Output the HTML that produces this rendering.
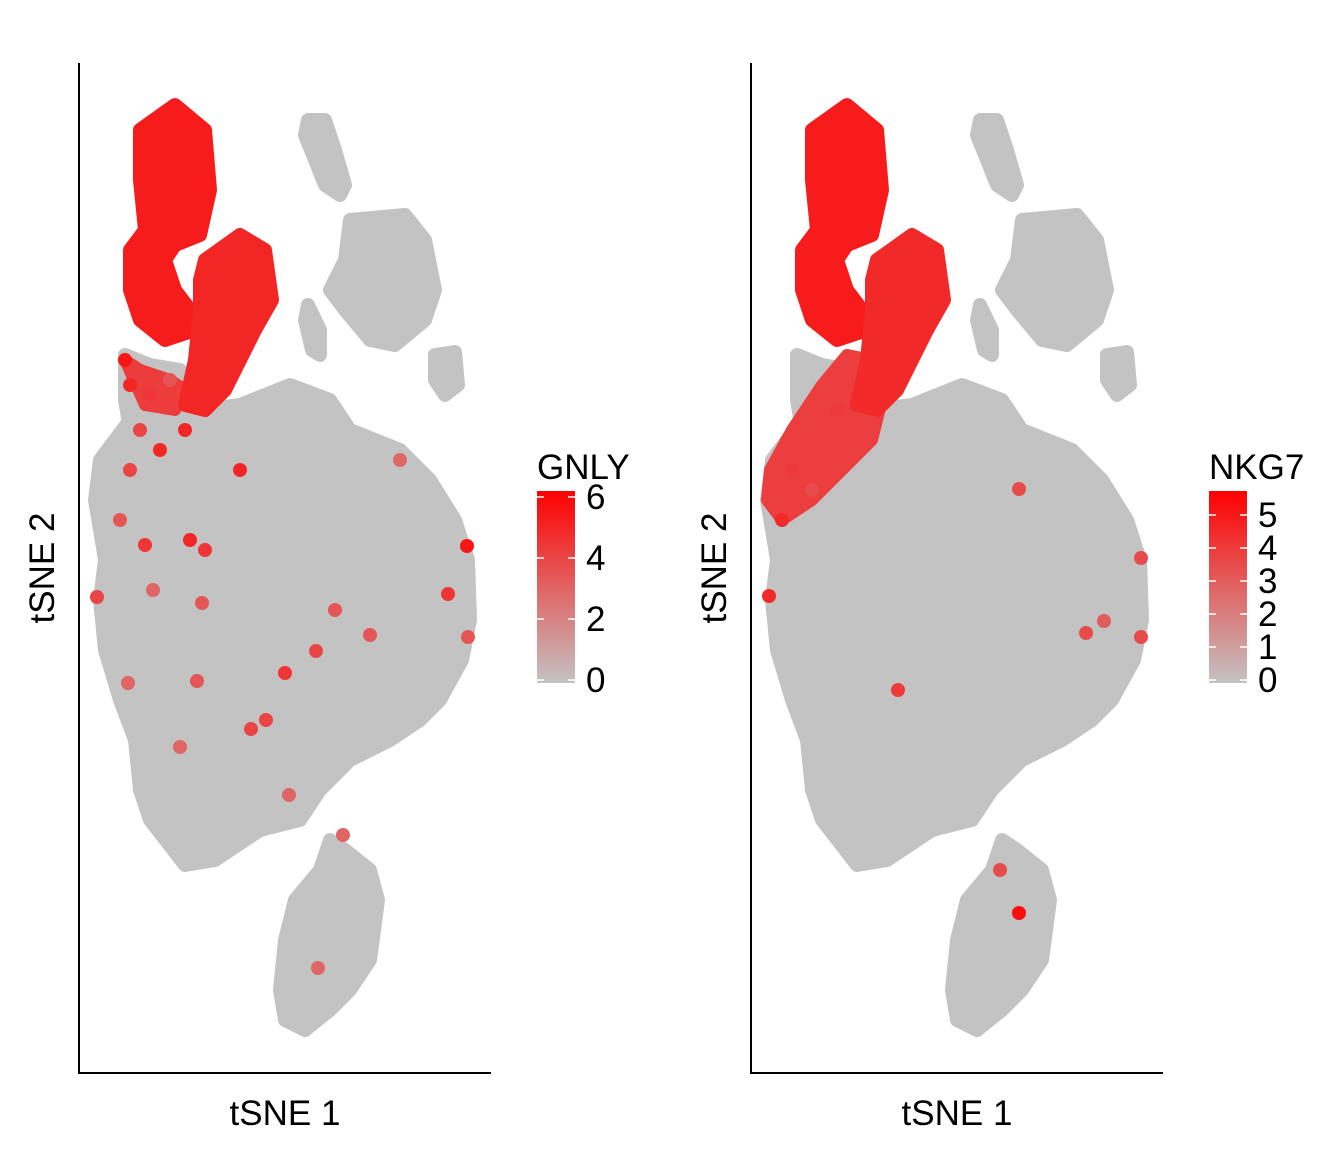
<!DOCTYPE html>
<html><head><meta charset="utf-8"><style>
html,body{margin:0;padding:0;background:#fff;}
svg{display:block;font-family:"Liberation Sans",sans-serif;}
</style></head><body>
<svg id="chart" width="1344" height="1152" viewBox="0 0 1344 1152"></svg>
<script>
// shared tSNE layout (data units: tSNE1 0..412, tSNE2 0..1010 from bottom)
const clusterNames = ["main","nk-top","nk-mid","nk-ext","strand","right-upper","small-a","small-b","bottom"];
const clusterMain = [[51,653],[121,663],[161,668],[211,688],[251,673],[271,643],[321,623],[351,593],[376,553],[389,513],[391,453],[383,413],[361,373],[341,353],[311,333],[271,313],[241,283],[221,253],[181,243],[136,213],[106,208],[71,253],[61,283],[56,333],[41,373],[26,423],[21,473],[26,513],[16,573],[21,613]];
const clusterTop = [[61,943],[96,968],[126,943],[131,883],[121,838],[96,828],[86,813],[96,783],[111,763],[116,743],[86,733],[61,753],[51,783],[51,823],[66,843],[61,893]];
const clusterMid = [[126,813],[161,838],[186,823],[193,773],[176,743],[161,713],[146,683],[126,663],[106,668],[116,713],[121,763],[121,793]];
const clusterExt = [[46,718],[71,708],[101,703],[126,663],[81,633],[51,643],[46,673]];
const clusterStrand = [[229,953],[246,953],[256,923],[266,888],[261,878],[246,888],[236,913],[226,938]];
const clusterRight = [[271,853],[326,858],[346,833],[356,783],[346,753],[316,728],[291,733],[266,763],[251,783],[266,813]];
const clusterSmallA = [[229,768],[241,743],[241,718],[233,723],[226,753]];
const clusterSmallB = [[356,718],[376,721],[379,688],[366,678],[356,693]];
const clusterBottom = [[251,233],[266,223],[291,203],[299,173],[291,113],[271,83],[251,63],[226,43],[206,53],[201,83],[206,133],[216,173],[241,203]];
const grayClusters = [clusterMain,clusterStrand,clusterRight,clusterSmallA,clusterSmallB,clusterBottom,clusterExt];

// GNLY
const gnlyRegions = [[clusterTop,5.3],[clusterMid,5.0]];
const gnlyRegionExt = [[46,713],[61,703],[91,693],[106,683],[96,663],[66,668]];
const gnlyExtValue = 4.3;
const gnlyCellsX = [161,18,74,123,49,118,187,172,206,237,256,369,388,389,101,210,264,239,66,111,51,81,41,126,321,291,46,51,71,91,106,61];
const gnlyCellsY = [603,476,483,470,390,392,353,344,400,422,463,479,527,436,326,278,238,105,528,533,603,623,553,523,613,438,713,688,678,693,643,643];
const gnlyCellsV = [5,4,3,3.5,3,3.5,4,4,4.5,4,3.5,4.5,5.5,3.5,3,3,3,3,4.5,5,4,5,3.5,4.5,3,3.5,5.5,5,4.5,3.5,5,4];

// NKG7
const nkgRegions = [[clusterTop,4.9],[clusterMid,4.5]];
const nkgRegionExt = [[19,603],[41,643],[71,688],[96,718],[121,713],[131,673],[121,633],[91,603],[61,573],[31,553],[16,573]];
const nkgExtValue = 3.9;
const nkgCellsX = [18,147,268,335,390,390,353,268,249,86,41,61,31];
const nkgCellsY = [477,383,584,440,515,436,452,160,203,663,603,583,553];
const nkgCellsV = [4.5,4,3.5,3.5,3.5,3.5,3,5.3,3.5,4,4,3.5,4.5];

const gnlyTicks = [0,2,4,6];
const nkgTicks = [0,1,2,3,4,5];

const NS="http://www.w3.org/2000/svg";
const svg=document.getElementById('chart');
function mk(tag,attrs,parent){const e=document.createElementNS(NS,tag);for(const k in attrs)e.setAttribute(k,attrs[k]);(parent||svg).appendChild(e);return e;}
function lerp(a,b,t){return Math.round(a+(b-a)*t);}
function colorFor(v,max){const t=Math.max(0,Math.min(1,v/max));return `rgb(${lerp(195,255,t)},${lerp(195,0,t)},${lerp(195,0,t)})`;}

function panel(off,name,regions,ext,extV,cx,cy,cv,max,ticks,ppu,legendTop,title){
  const g=mk('g',{});
  
  
  const sx=v=>79+off+v; const sy=v=>1073-v;
  const pts=p=>p.map(q=>sx(q[0])+','+sy(q[1])).join(' ');
  grayClusters.forEach(c=>{
    const el=mk('polygon',{points:pts(c),fill:'#c3c3c3',stroke:'#c3c3c3','stroke-width':14,'stroke-linejoin':'round'},g);
    
    
  });
  const ee=mk('polygon',{points:pts(ext),fill:colorFor(extV,max),stroke:colorFor(extV,max),'stroke-width':12,'stroke-linejoin':'round'},g);
  
  
  regions.forEach(r=>{
    const el=mk('polygon',{points:pts(r[0]),fill:colorFor(r[1],max),stroke:colorFor(r[1],max),'stroke-width':14,'stroke-linejoin':'round'},g);
    
    
  });
  cx.forEach((x,i)=>{
    const el=mk('circle',{cx:sx(x),cy:sy(cy[i]),r:7,fill:colorFor(cv[i],max)},g);
    
    
  });
  const ax=mk('path',{d:`M${79+off} 63V1073H${491+off}`,stroke:'#000','stroke-width':2,fill:'none'},g);
  
  
  const xt=mk('text',{x:285+off,y:1125,'font-size':35,'text-anchor':'middle'},g);xt.textContent='tSNE 1';
  
  const yt=mk('text',{x:0,y:0,'font-size':35,'text-anchor':'middle',transform:`translate(${54+off},568) rotate(-90)`},g);yt.textContent='tSNE 2';
  
  const lx=537+off, bottom=680;
  const gid='grad'+name;
  const defs=mk('defs',{},g);const lg=mk('linearGradient',{id:gid,x1:0,y1:1,x2:0,y2:0},defs);
  [0,0.25,0.5,0.75,1].forEach(t=>mk('stop',{offset:t,'stop-color':colorFor(t*max,max)},lg));
  const bar=mk('rect',{x:lx,y:legendTop,width:38,height:683-legendTop,fill:`url(#${gid})`},g);
  
  const lt=mk('text',{x:lx,y:479,'font-size':35},g);lt.textContent=title;
  
  ticks.forEach(t=>{
    const y=bottom-t*ppu;
    mk('line',{x1:lx,x2:lx+7,y1:y,y2:y,stroke:'#fff','stroke-width':1.5},g);
    mk('line',{x1:lx+31,x2:lx+38,y1:y,y2:y,stroke:'#fff','stroke-width':1.5},g);
    const tl=mk('text',{x:lx+49,y:y+12,'font-size':35},g);tl.textContent=t;
    
  });
}
panel(0,'gnly',gnlyRegions,gnlyRegionExt,gnlyExtValue,gnlyCellsX,gnlyCellsY,gnlyCellsV,6.2,gnlyTicks,30.5,491,'GNLY');
panel(672,'nkg7',nkgRegions,nkgRegionExt,nkgExtValue,nkgCellsX,nkgCellsY,nkgCellsV,5.7,nkgTicks,33,491,'NKG7');
</script>
</body></html>
